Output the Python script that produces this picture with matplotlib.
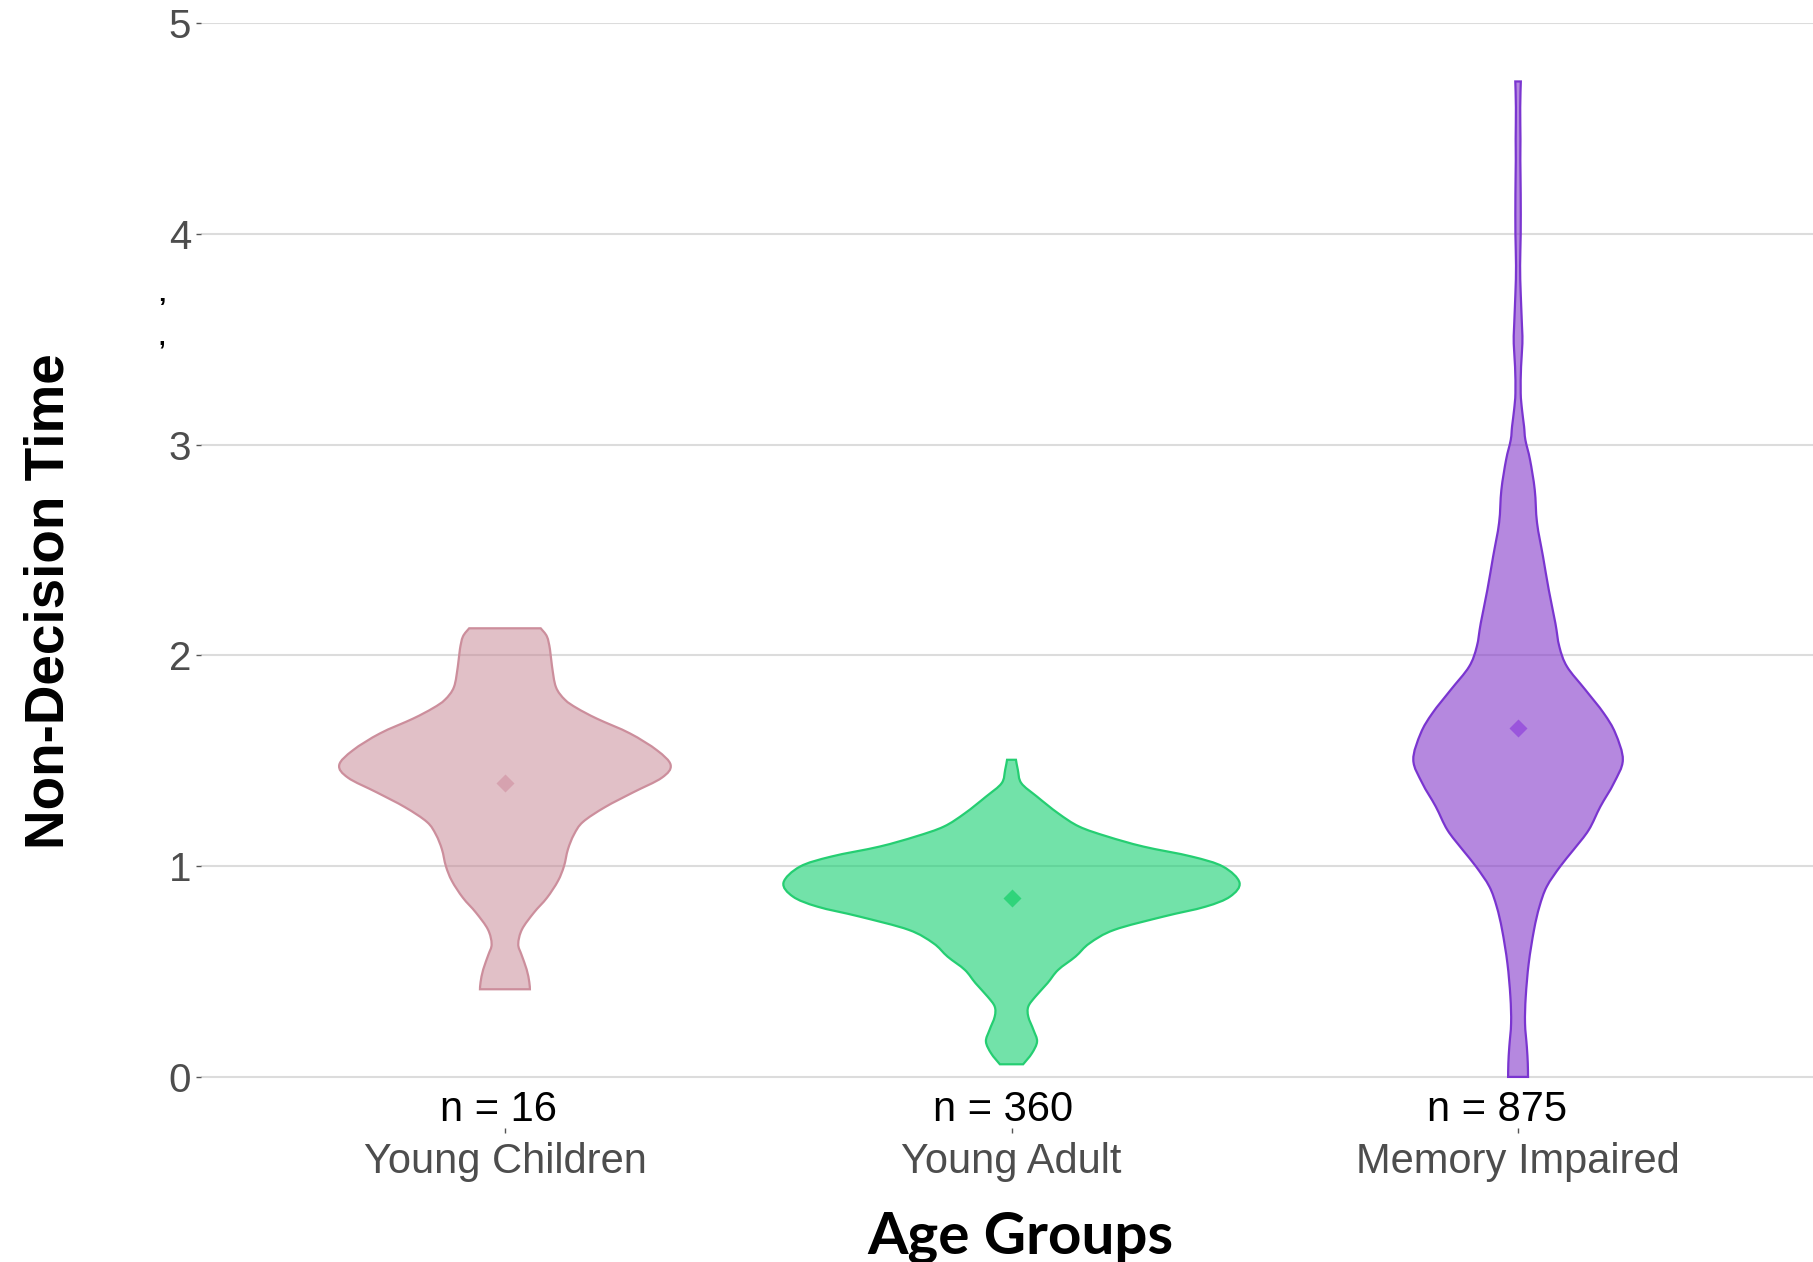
import numpy as np
import matplotlib
matplotlib.use("Agg")
import matplotlib.pyplot as plt
from matplotlib.path import Path
from matplotlib.patches import PathPatch

# ---------------- data ----------------
groups = ["Young Children", "Young Adult", "Memory Impaired"]
n_obs = [16, 360, 875]
group_means = [1.396, 0.851, 1.658]

# kernel density profiles (value level, density) for each group
yc_levels = [0.416, 0.45, 0.51, 0.58, 0.63, 0.70, 0.78, 0.85, 0.93, 1.00, 1.08, 1.15,
             1.21, 1.28, 1.35, 1.42, 1.48, 1.55, 1.63, 1.70, 1.75, 1.79, 1.85, 1.95,
             2.03, 2.09, 2.129]
yc_density = [0.208, 0.203, 0.181, 0.138, 0.111, 0.142, 0.242, 0.350, 0.442, 0.492,
              0.525, 0.575, 0.650, 0.833, 1.067, 1.308, 1.381, 1.267, 1.042, 0.767,
              0.600, 0.500, 0.425, 0.392, 0.375, 0.350, 0.298]

ya_levels = [0.060, 0.112, 0.168, 0.223, 0.286, 0.334, 0.381, 0.445, 0.508, 0.571,
             0.634, 0.698, 0.761, 0.808, 0.856, 0.922, 0.998, 1.046, 1.093, 1.141,
             1.188, 1.251, 1.330, 1.394, 1.457, 1.505]
ya_density = [0.097, 0.170, 0.213, 0.183, 0.140, 0.140, 0.199, 0.300, 0.389, 0.533,
              0.650, 0.857, 1.267, 1.617, 1.822, 1.900, 1.763, 1.500, 1.100, 0.798,
              0.564, 0.389, 0.213, 0.082, 0.053, 0.037]

mi_levels = [0.0, 0.065, 0.144, 0.255, 0.381, 0.540, 0.698, 0.808, 0.903, 0.998,
             1.077, 1.172, 1.283, 1.394, 1.504, 1.631, 1.726, 1.837, 1.947, 2.042,
             2.153, 2.311, 2.469, 2.63, 2.786, 2.928, 3.023, 3.087, 3.166, 3.245,
             3.37, 3.48, 3.56, 3.72, 3.85, 4.00, 4.19, 4.35, 4.45, 4.60, 4.724]
mi_density = [0.083, 0.081, 0.073, 0.058, 0.064, 0.089, 0.133, 0.178, 0.239, 0.350,
              0.461, 0.589, 0.686, 0.798, 0.873, 0.811, 0.714, 0.561, 0.408, 0.344,
              0.311, 0.256, 0.208, 0.158, 0.139, 0.100, 0.061, 0.050, 0.033, 0.022,
              0.025, 0.036, 0.033, 0.022, 0.017, 0.022, 0.022, 0.019, 0.020, 0.018,
              0.023]

y_ticks = [0, 1, 2, 3, 4, 5]

# ---------------- styling ----------------
fill_colors = ["#C58391", "#14D070", "#8439CB"]
fill_alphas = [0.5, 0.6, 0.6]
edge_colors = ["#CC8E9C", "#25CE72", "#7A35D0"]
mean_colors = ["#D6A2AF", "#2FD47A", "#9A55DC"]
width_scale = 0.2369          # category units per unit of density
n_label_shift = [-0.013, -0.016, -0.041]

W, H = 1813, 1262
fig = plt.figure(figsize=(W / 100, H / 100), dpi=100)
fig.patch.set_facecolor("white")

ax = fig.add_axes([201 / W, 1 - 1127.5 / H, (1822 - 201) / W, (1127.5 - 23.3) / H])
ax.set_xlim(0.4, 3.6)
ax.set_ylim(-0.24, 5.0)
for s in ax.spines.values():
    s.set_visible(False)
ax.set_facecolor("none")


def catmull_bezier(points):
    """Vertices/codes of a smooth CURVE4 path passing through the given points."""
    pts = np.asarray(points, dtype=float)
    ext = np.vstack([pts[0], pts, pts[-1]])
    verts, codes = [], []
    for i in range(1, len(ext) - 2):
        p0, p1, p2, p3 = ext[i - 1], ext[i], ext[i + 1], ext[i + 2]
        c1 = p1 + (p2 - p0) / 6.0
        c2 = p2 - (p3 - p1) / 6.0
        verts += [tuple(c1), tuple(c2), tuple(p2)]
        codes += [Path.CURVE4] * 3
    return verts, codes


def violin(pos, levels, density, face, alpha, edge):
    lv = np.asarray(levels, dtype=float)
    dn = np.asarray(density, dtype=float) * width_scale
    right = list(zip(pos + dn, lv))
    left = list(zip(pos - dn, lv))[::-1]
    verts = [right[0]]
    codes = [Path.MOVETO]
    v, c = catmull_bezier(right)
    verts += v
    codes += c
    verts.append(left[0])
    codes.append(Path.LINETO)
    v, c = catmull_bezier(left)
    verts += v
    codes += c
    verts.append(right[0])
    codes.append(Path.CLOSEPOLY)
    path = Path(verts, codes)
    ax.add_patch(PathPatch(path, facecolor=face, alpha=alpha, edgecolor="none", zorder=2))
    ax.add_patch(PathPatch(path, facecolor="none", edgecolor=edge, lw=1.6, zorder=3))


profiles = [(yc_levels, yc_density), (ya_levels, ya_density), (mi_levels, mi_density)]
positions = np.arange(1, len(groups) + 1)
for i, (lv, dn) in enumerate(profiles):
    violin(positions[i], lv, dn, fill_colors[i], fill_alphas[i], edge_colors[i])
    ax.plot(positions[i], group_means[i], marker="D", ms=9.5, color=mean_colors[i],
            mec="none", zorder=4)

# grid and axes
ax.set_yticks(y_ticks)
ax.yaxis.grid(True, color="#DCDCDC", lw=1.5, zorder=0)
ax.xaxis.grid(False)
ax.set_axisbelow(True)
ax.set_xticks(positions)
ax.set_xticklabels(groups)
ax.tick_params(axis="y", length=3.6, width=1.0, color="#555555", pad=3.6,
               labelsize=29, labelcolor="#4D4D4D")
ax.tick_params(axis="x", length=3.6, width=1.0, color="#555555", pad=6.5,
               labelsize=30, labelcolor="#4D4D4D")
for lab in ax.get_xticklabels() + ax.get_yticklabels():
    lab.set_fontfamily("Liberation Sans")

# sample-size labels
for i, n in enumerate(n_obs):
    ax.text(positions[i] + n_label_shift[i], -0.211, f"n = {n}", ha="center",
            va="baseline", fontsize=30, color="black", family="Liberation Sans",
            clip_on=False, zorder=5)

# axis titles
fig.text(50 / W, 1 - 601 / H, "Non-Decision Time", rotation=90, ha="center",
         va="center", fontsize=39.5, fontweight="bold", family="Liberation Sans",
         color="black")
fig.text(1020 / W, 8 / H, "Age Groups", ha="center", va="baseline", fontsize=42,
         fontweight="bold", family=["Lato", "DejaVu Sans"], color="black")
fig.text(162 / W, 1 - 309 / H, "\u2019", ha="center", va="center", fontsize=19,
         fontweight="bold", color="black", family="Liberation Sans")
fig.text(162 / W, 1 - 338 / H, ",", ha="center", va="center", fontsize=17,
         fontweight="bold", color="black", family="Liberation Sans")

fig.savefig("out.png", dpi=100, facecolor="white")
